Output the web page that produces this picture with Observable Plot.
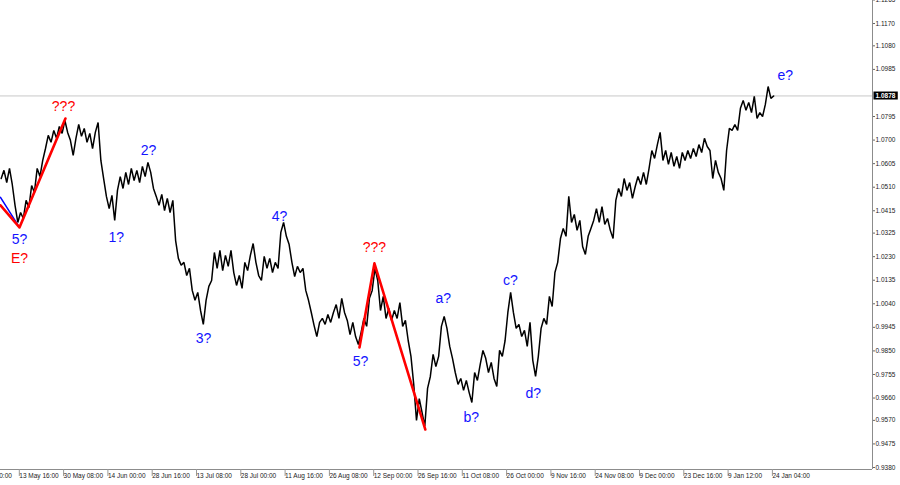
<!DOCTYPE html>
<html>
<head>
<meta charset="utf-8">
<script src="https://cdn.jsdelivr.net/npm/d3@7"></script>
<script src="https://cdn.jsdelivr.net/npm/@observablehq/plot@0.6"></script>
<style>
  html, body { margin: 0; padding: 0; background: #fff; }
  #chart svg { display: block; }
</style>
</head>
<body>
<div id="chart"></div>
<script>
// Close prices in points (price x 10000), one value per bar step
const closePts = [
  10545,10578,10529,10586,10521,10437,10368,10408,10384,10457,10428,10517,10489,10586,10553,10618,10666,10719,10691,10739,10707,10755,10727,10779,10731,
  10699,10638,10707,10763,10715,10747,10691,10727,10666,10731,10771,10618,10545,10473,10424,10477,10376,10497,10553,10505,10570,10521,10586,10537,10578,10529,10594,10553,10610,10570,10505,10473,10437,10481,10416,10465,10408,10457,10295,10223,10195,
  10207,10154,10183,10094,10054,10086,10013,9957,10054,10110,10134,10247,10183,10255,10174,10235,10191,10255,10166,10114,10154,10102,10207,10174,10235,10283,10207,10154,10134,10231,10183,10223,10166,10207,10183,10328,10368,10312,10279,10207,10150,10191,10166,10183,10094,10054,10005,9953,9908,9965,9981,9957,9997,9965,10005,10037,9981,10062,10005,9973,9916,9965,9908,9876,
  9925,9981,9949,10062,10094,10183,10134,10013,10070,9981,10021,9973,10013,9981,10045,9949,9973,9892,9828,9715,9570,9658,9602,9546,9699,9747,9836,9787,9828,9949,9989,9941,9868,9820,9763,9715,9739,9691,9731,9683,9642,9763,9731,9795,
  9852,9820,9763,9804,9739,9707,9852,9828,9892,10005,10086,10005,9941,9957,9908,9933,9868,9965,9812,9747,9828,9941,9981,9957,10070,10029,10166,10207,10303,10344,10312,10473,10368,10400,10336,10376,10271,10239,10312,10344,10376,10424,10368,10432,10360,10384,10336,10303,10457,10505,10473,10545,10497,10529,10465,10513,10553,10521,
  10570,10521,10586,10658,10626,10682,10731,10618,10658,10602,10650,10594,10634,10586,10650,10618,10658,10626,10666,10634,10682,10650,10707,10674,10658,10545,10618,10570,10545,10497,10658,10747,10739,10763,10739,10828,10860,10820,10852,10811,10876,10787,10811,10795,10844,10916,10868,10878
];

// Time axis: bar index of each label and its text
const xTickBars   = [-10, 6, 22, 38, 54, 70, 86, 102, 118, 134, 150, 166, 182, 198, 214, 230, 246, 262, 278];
const xTickLabels = ["29 Apr 00:00","13 May 16:00","30 May 08:00","14 Jun 00:00","28 Jun 16:00","13 Jul 08:00","28 Jul 00:00","11 Aug 16:00","26 Aug 08:00","12 Sep 00:00","26 Sep 16:00","11 Oct 08:00","26 Oct 00:00","9 Nov 16:00","24 Nov 08:00","9 Dec 00:00","23 Dec 16:00","9 Jan 12:00","24 Jan 04:00"];

// Price axis labels
const yTicks = [1.1265,1.1170,1.1080,1.0985,1.0795,1.0700,1.0605,1.0510,1.0415,1.0325,1.0230,1.0135,1.0040,0.9945,0.9850,0.9755,0.9660,0.9570,0.9475,0.9380];

// Visible ranges
const xDomain = [-0.25, 314.7];
const yDomain = [0.93719, 1.12628];

// Wave annotation lines (bar, price)
const blueWaveBars   = [-0.25, 5.9];
const blueWavePrices = [1.0469, 1.0360];
const redWaveABars   = [-0.25, 6.6, 23.2];
const redWaveAPrices = [1.0437, 1.0348, 1.0787];
const redWaveBBars   = [129.4, 134.8, 153.2];
const redWaveBPrices = [0.9864, 1.0203, 0.9533];

// Wave labels
const blueLabelText   = ["5?", "1?", "2?", "3?", "4?", "5?", "a?", "b?", "c?", "d?", "e?"];
const blueLabelBars   = [6.6, 41.6, 53.2, 73.1, 100.5, 129.8, 159.7, 169.8, 183.9, 192.2, 283.2];
const blueLabelPrices = [1.0299, 1.0307, 1.0658, 0.9900, 1.0392, 0.9808, 1.0062, 0.9582, 1.0134, 0.9679, 1.0961];
const redLabelText    = ["???", "E?", "???"];
const redLabelBars    = [22.5, 6.6, 134.8];
const redLabelPrices  = [1.0836, 1.0223, 1.0267];

// ---- build tables ----
const series = closePts.map((v, i) => ({bar: i, price: v / 10000}));
const lastPrice = series[series.length - 1].price;
const zipPts = (b, p) => b.map((x, i) => ({bar: x, price: p[i]}));
const blueWave = zipPts(blueWaveBars, blueWavePrices);
const redWaveA = zipPts(redWaveABars, redWaveAPrices);
const redWaveB = zipPts(redWaveBBars, redWaveBPrices);
const blueLabels = blueLabelText.map((t, i) => ({text: t, bar: blueLabelBars[i], price: blueLabelPrices[i]}));
const redLabels = redLabelText.map((t, i) => ({text: t, bar: redLabelBars[i], price: redLabelPrices[i]}));
const xLabelMap = new Map(xTickBars.map((b, i) => [b, xTickLabels[i]]));
const fmt4 = d3.format(".4f");
const priceText = fmt4(lastPrice);

const chart = Plot.plot({
  width: 900,
  height: 485,
  marginLeft: 0,
  marginRight: 28,
  marginTop: 0,
  marginBottom: 16,
  style: {fontFamily: "'Liberation Sans', Arial, sans-serif", fontSize: "6.5px", background: "#fff", color: "#222"},
  x: {domain: xDomain, axis: null},
  y: {domain: yDomain, axis: null},
  marks: [
    Plot.ruleY([lastPrice], {stroke: "#c8c8c8", strokeWidth: 1}),
    Plot.line(series, {x: "bar", y: "price", stroke: "#000", strokeWidth: 1.5, strokeLinejoin: "miter"}),
    Plot.line(blueWave, {x: "bar", y: "price", stroke: "#0000ff", strokeWidth: 1.5}),
    Plot.line(redWaveA, {x: "bar", y: "price", stroke: "#ff0000", strokeWidth: 2.6}),
    Plot.line(redWaveB, {x: "bar", y: "price", stroke: "#ff0000", strokeWidth: 2.6}),
    Plot.text(blueLabels, {x: "bar", y: "price", text: "text", fill: "#1414ff", fontSize: 14}),
    Plot.text(redLabels, {x: "bar", y: "price", text: "text", fill: "#ff0000", fontSize: 14}),
    Plot.ruleX([xDomain[1]], {stroke: "#8c8c8c", strokeWidth: 1}),
    Plot.ruleY([yDomain[0]], {stroke: "#8c8c8c", strokeWidth: 1}),
    Plot.axisY(yTicks, {anchor: "right", label: null, tickSize: 2, tickPadding: 1, tickFormat: fmt4, fill: "#222", stroke: "#666"}),
    Plot.axisX(xTickBars, {anchor: "bottom", label: null, tickSize: 7, tickPadding: -3, textAnchor: "start", dx: 1.5, tickFormat: d => xLabelMap.get(d), fill: "#222", stroke: "#999"}),
    Plot.text([lastPrice], {x: xDomain[1], y: d => d, text: d => fmt4(d), textAnchor: "start", dx: 3, fill: "#fff", fontWeight: "bold"})
  ]
});
document.getElementById("chart").append(chart);

// black box behind the current-price label
d3.select(chart).selectAll("text").filter(function () { return this.textContent === priceText && this.getAttribute("fill") !== "#222"; })
  .each(function () {
    const b = this.getBBox();
    const rect = document.createElementNS("http://www.w3.org/2000/svg", "rect");
    rect.setAttribute("x", b.x - 2);
    rect.setAttribute("y", b.y - 0.5);
    rect.setAttribute("width", b.width + 4);
    rect.setAttribute("height", b.height + 1);
    rect.setAttribute("fill", "#000");
    if (this.getAttribute("transform")) rect.setAttribute("transform", this.getAttribute("transform"));
    this.parentNode.insertBefore(rect, this);
  });
</script>
</body>
</html>
